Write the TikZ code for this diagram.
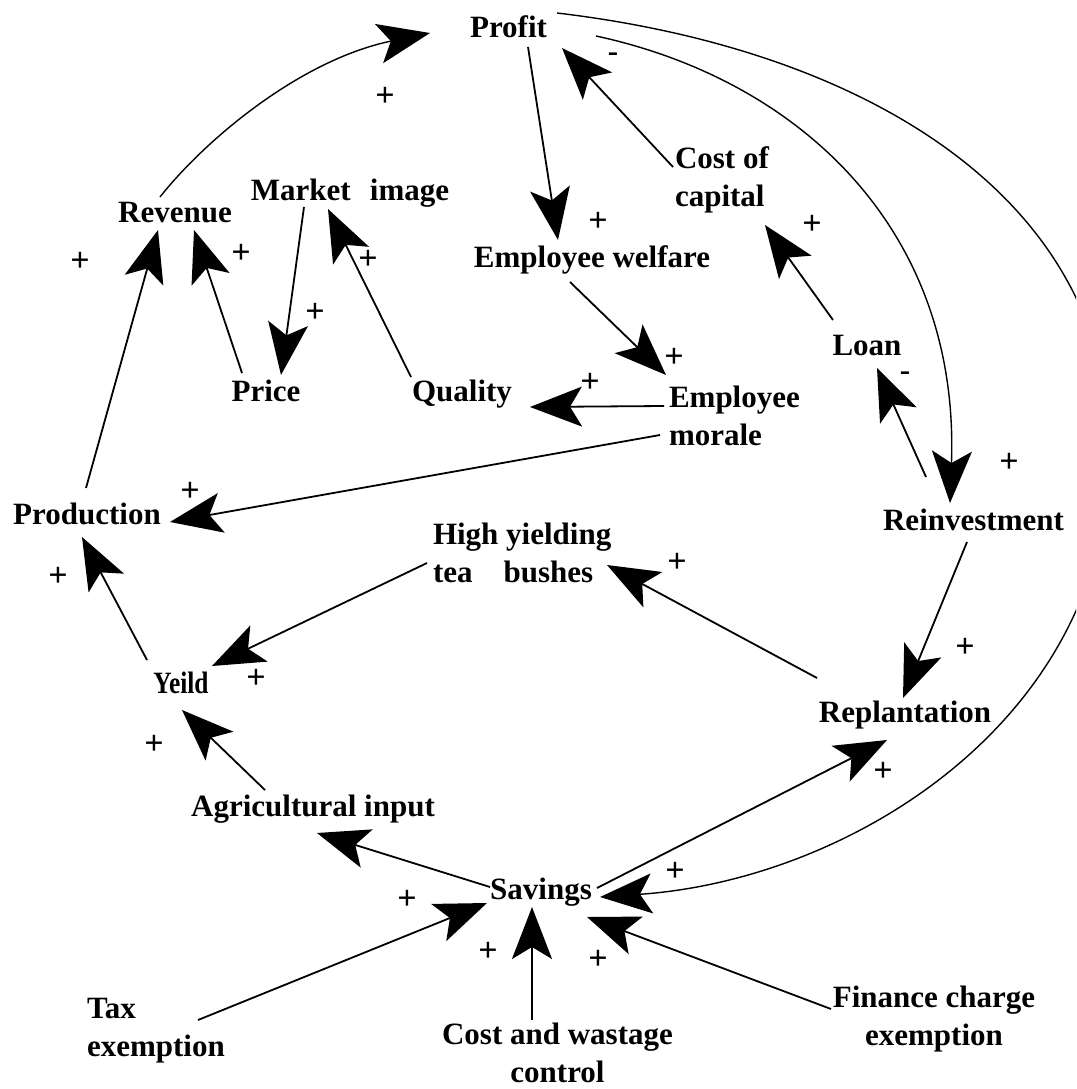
\documentclass[tikz,border=0pt]{standalone}
\usepackage{fontspec}
\setmainfont{Liberation Serif}
\newfontfamily\narrowserif{Liberation Serif}[FakeStretch=0.82]
\usetikzlibrary{arrows.meta,calc}

\tikzset{
  lbl/.style={font=\fontsize{31}{38}\selectfont\bfseries, inner sep=0pt, outer sep=0pt},
  sgn/.style={font=\fontsize{34}{34}\selectfont\bfseries, inner sep=0pt},
  link/.style={line width=1.8pt, -{Stealth[length=52pt,width=40pt,inset=12pt]}},
  curvelink/.style={link, line width=1.4pt},
}

\begin{document}
\begin{tikzpicture}[x=1pt,y=-1pt]
\useasboundingbox (0,0) rectangle (1076,1089);
\clip (0,0) rectangle (1076,1089);

% variables
\node[lbl, anchor=base] (profit)     at (508.5,38)  {Profit};
\node[lbl, anchor=base] (revenue)    at (175,222)   {Revenue};
\node[lbl, anchor=base] (market)     at (350,200)   {Market\hspace{0.62em}image};
\node[lbl, anchor=west, align=left] (cost) at (675,180) {Cost of\\capital};
\node[lbl, anchor=base] (welfare)    at (592,267)   {Employee welfare};
\node[lbl, anchor=base] (loan)       at (867,355)   {Loan};
\node[lbl, anchor=base] (price)      at (266,401)   {Price};
\node[lbl, anchor=base] (quality)    at (462,401)   {Quality};
\node[lbl, anchor=west, align=left] (morale) at (669,415.5) {Employee\\morale};
\node[lbl, anchor=base] (production) at (87,524)    {Production};
\node[lbl, anchor=base] (reinv)      at (973.5,530) {Reinvestment};
\node[lbl, anchor=west, align=left] (hy) at (433,553) {High yielding\\tea\hspace{1em}bushes};
\node[lbl, anchor=base, font=\fontsize{31}{38}\selectfont\narrowserif\bfseries] (yeild) at (181,693) {Yeild};
\node[lbl, anchor=base] (replant)    at (905,722)   {Replantation};
\node[lbl, anchor=base] (agri)       at (313,816)   {Agricultural input};
\node[lbl, anchor=base] (savings)    at (541,899)   {Savings};
\node[lbl, anchor=west, align=left] (tax) at (87,1031) {Tax\\exemption};
\node[lbl, align=center] (cwc)       at (557.5,1053) {Cost and wastage\\control};
\node[lbl, align=center] (fin)       at (934,1019)  {Finance charge\\exemption};

% causal links
\draw[curvelink] ($(revenue.base)+(-15,-25)$) .. controls +(45,-57) and +(-130,27) .. ($(profit.base)+(-78.5,-5)$);
\draw[link] ($(profit.base)+(19.5,9)$) -- ($(welfare.base)+(-34,-27)$);
\draw[link] ($(cost.west)+(-2,-13)$) -- ($(profit.base)+(53.5,10)$);
\draw[curvelink] ($(profit.base)+(87.5,-2)$) .. controls +(204,44) and +(10,-273) .. ($(reinv.base)+(-23.5,-27)$);
\coordinate (swing) at (1110,450);
\draw[curvelink] ($(profit.base)+(48.5,-25)$) .. controls +(313,37) and +(0,-250) .. (swing)
  .. controls +(0,270) and +(250,-17) .. ($(savings.base)+(59,-2)$);
\draw[link] ($(loan.base)+(-34,-35)$) -- ($(cost.west)+(90,45)$);
\draw[link] ($(reinv.base)+(-47.5,-53)$) -- ($(loan.base)+(10,13)$);
\draw[link] ($(market.base)+(-46,7)$) -- ($(price.base)+(15,-26)$);
\draw[link] ($(price.base)+(-24,-28)$) -- ($(revenue.base)+(19,8)$);
\draw[link] ($(quality.base)+(-51,-24)$) -- ($(market.base)+(-22,9)$);
\draw[link] ($(production.base)+(-1,-36)$) -- ($(revenue.base)+(-17,8)$);
\draw[link] ($(welfare.base)+(-22,15)$) -- ($(morale.west)+(-3,-40.5)$);
\draw[link] ($(morale.west)+(-5,-9.5)$) -- ($(quality.base)+(68,6)$);
\draw[link] ($(morale.west)+(-9,19.5)$) -- ($(production.base)+(83,-2)$);
\draw[link] ($(yeild.base)+(-34,-33)$) -- ($(production.base)+(-5,13)$);
\draw[link] ($(hy.west)+(-6,10)$) -- ($(yeild.base)+(31,-27)$);
\draw[link] ($(replant.base)+(-88,-44)$) -- ($(hy.west)+(174,12)$);
\draw[link] ($(reinv.base)+(-6.5,12)$) -- ($(replant.base)+(-2,-24)$);
\draw[link] ($(agri.base)+(-48,-26)$) -- ($(yeild.base)+(1,17)$);
\draw[link] ($(savings.base)+(-51,-12)$) -- ($(agri.base)+(4,17)$);
\draw[link] ($(savings.base)+(56,-11)$) -- ($(replant.base)+(-18,18)$);
\draw[link] ($(tax.west)+(111,-11)$) -- ($(savings.base)+(-54,4)$);
\draw[link] ($(cwc.center)+(-25.5,-33)$) -- ($(savings.base)+(-9,8)$);
\draw[link] ($(fin.center)+(-103,-10)$) -- ($(savings.base)+(46,18)$);

% polarity signs
\node[sgn] (s1)  at (385,97)   {+};
\node[sgn] (s2)  at (598,222)  {+};
\node[sgn] (s3)  at (1009,463) {+};
\node[sgn] (s4)  at (675,872)  {+};
\node[sgn] (s5)  at (812,225)  {+};
\node[sgn] (s6)  at (315,313)  {+};
\node[sgn] (s7)  at (241,254)  {+};
\node[sgn] (s8)  at (368,260)  {+};
\node[sgn] (s9)  at (80,262)   {+};
\node[sgn] (s10) at (674,358)  {+};
\node[sgn] (s11) at (590,383)  {+};
\node[sgn] (s12) at (190,492)  {+};
\node[sgn] (s13) at (58,577)   {+};
\node[sgn] (s14) at (256,679)  {+};
\node[sgn] (s15) at (677,563)  {+};
\node[sgn] (s16) at (965,648)  {+};
\node[sgn] (s17) at (154,745)  {+};
\node[sgn] (s18) at (883,772)  {+};
\node[sgn] (s19) at (407,900)  {+};
\node[sgn] (s20) at (488,952)  {+};
\node[sgn] (s21) at (598,960)  {+};
\node[lbl] (n1) at (613,57)  {-};
\node[lbl] (n2) at (905,376) {-};
\end{tikzpicture}
\end{document}
